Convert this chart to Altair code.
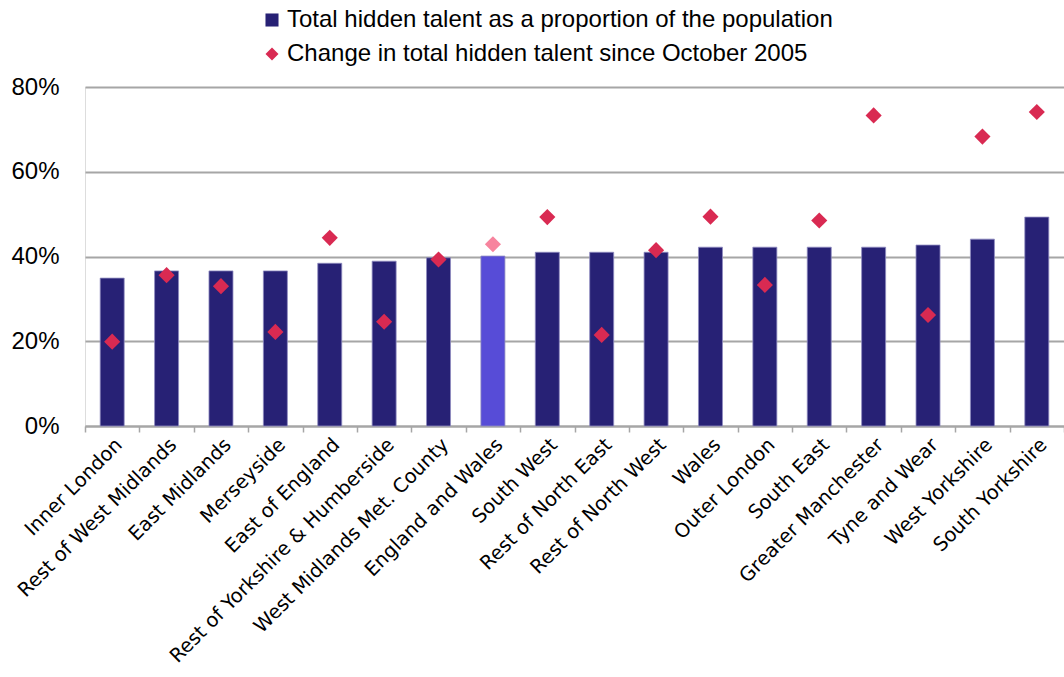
import altair as alt
import pandas as pd

regions = [
    "Inner London", "Rest of West Midlands", "East Midlands", "Merseyside",
    "East of England", "Rest of Yorkshire & Humberside", "West Midlands Met. County",
    "England and Wales", "South West", "Rest of North East", "Rest of North West",
    "Wales", "Outer London", "South East", "Greater Manchester", "Tyne and Wear",
    "West Yorkshire", "South Yorkshire",
]
talent = [0.349, 0.366, 0.366, 0.366, 0.384, 0.389, 0.397, 0.401, 0.410, 0.410,
          0.410, 0.422, 0.422, 0.422, 0.422, 0.427, 0.441, 0.493]
change = [0.199, 0.356, 0.330, 0.222, 0.444, 0.246, 0.393, 0.429, 0.493, 0.215,
          0.415, 0.494, 0.333, 0.485, 0.733, 0.262, 0.683, 0.741]

S1 = "Total hidden talent as a proportion of the population"
S2 = "Change in total hidden talent since October 2005"
HIGHLIGHT = "England and Wales"

df = pd.DataFrame({"region": regions, "talent": talent, "change": change})
df["s1"] = S1
df["s2"] = S2

grey = "#a6a6a6"

x_enc = alt.X(
    "region:N", sort=regions,
    scale=alt.Scale(paddingInner=0, paddingOuter=0),
    axis=alt.Axis(
        title=None, labelAngle=-45, labelAlign="right", labelBaseline="top",
        labelFont="DejaVu Sans", labelFontSize=19.5, labelColor="#000000",
        labelLimit=500, labelOverlap=False, labelPadding=3,
        domainColor=grey, domainWidth=2, tickColor=grey, tickWidth=1.5,
        tickSize=6, tickBand="extent", grid=False,
    ),
)

y_scale = alt.Scale(domain=[0, 0.8], nice=False)
y_axis = alt.Axis(
    title=None, format=".0%", values=[0, 0.2, 0.4, 0.6, 0.8],
    labelFont="Liberation Sans", labelFontSize=24, labelColor="#000000",
    labelPadding=26, domain=False, ticks=False,
    grid=True, gridColor=grey, gridWidth=2,
)

color_scale = alt.Scale(domain=[S1, S2], range=["#272175", "#d92a52"])
shape_scale = alt.Scale(domain=[S1, S2], range=["square", "diamond"])

legend = alt.Legend(
    title=None, orient="none", legendX=175, legendY=-79, direction="vertical",
    labelFont="Liberation Sans", labelFontSize=24, labelColor="#000000",
    symbolSize=170, symbolOpacity=1, symbolStrokeWidth=0, rowPadding=10,
    labelOffset=3, labelLimit=900,
)

bars = alt.Chart(df).mark_bar(size=24, stroke="#8f8cc0", strokeWidth=0.8).encode(
    x=x_enc,
    y=alt.Y("talent:Q", scale=y_scale, axis=y_axis),
    color=alt.condition(
        f"datum.region == '{HIGHLIGHT}'",
        alt.value("#574cd7"),
        alt.Color("s1:N", scale=color_scale, legend=legend),
    ),
)

points = alt.Chart(df).mark_point(filled=True, size=260, opacity=1).encode(
    x=x_enc,
    y=alt.Y("change:Q", scale=y_scale),
    color=alt.condition(
        f"datum.region == '{HIGHLIGHT}'",
        alt.value("#f7849e"),
        alt.Color("s2:N", scale=color_scale, legend=legend),
    ),
    shape=alt.Shape("s2:N", scale=shape_scale, legend=legend),
)

chart = (
    alt.layer(bars, points)
    .properties(
        width=979, height=339,
        autosize=alt.AutoSizeParams(type="none"),
        padding={"left": 85, "top": 87, "right": 0, "bottom": 251},
    )
    .configure_view(stroke=None)
    .configure(background="white")
)

chart.save("out.html", embed_options={"renderer": "svg", "actions": False})
